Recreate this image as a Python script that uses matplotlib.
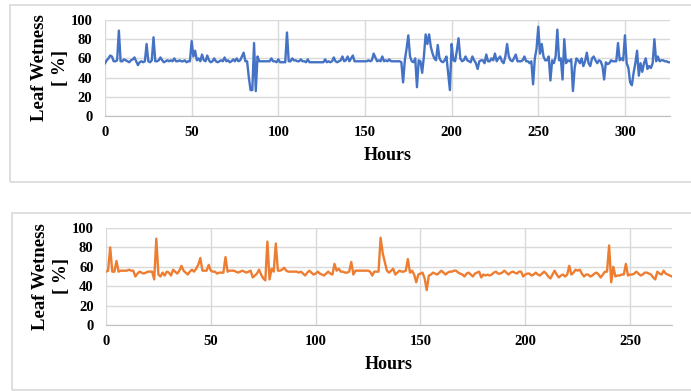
import matplotlib
matplotlib.use("Agg")
import matplotlib.pyplot as plt
from matplotlib.patches import Rectangle

# Leaf wetness readings, one per hour
wetness_a = [
    55, 58, 60, 63, 62, 57, 57, 58, 89, 57,
    57, 59, 58, 57, 56, 58, 59, 61, 57, 53,
    56, 57, 56, 57, 75, 57, 56, 58, 82, 57,
    57, 58, 61, 58, 56, 57, 58, 57, 58, 57,
    60, 57, 57, 58, 57, 57, 58, 56, 57, 57,
    78, 62, 68, 58, 60, 57, 64, 58, 57, 63,
    58, 56, 57, 60, 57, 56, 57, 58, 57, 61,
    57, 58, 56, 57, 59, 57, 60, 57, 58, 62,
    66, 57, 57, 40, 27, 27, 76, 26, 62, 57,
    57, 57, 57, 57, 57, 57, 60, 57, 57, 56,
    59, 56, 56, 56, 56, 87, 57, 57, 60, 58,
    58, 57, 57, 59, 57, 57, 56, 59, 56, 56,
    56, 56, 56, 56, 56, 56, 56, 59, 56, 57,
    56, 57, 61, 57, 56, 57, 58, 62, 57, 58,
    62, 57, 60, 63, 57, 57, 57, 57, 57, 57,
    57, 57, 58, 57, 58, 65, 61, 57, 58, 57,
    62, 57, 58, 57, 59, 57, 57, 57, 57, 57,
    57, 56, 35, 58, 70, 84, 62, 57, 56, 60,
    30, 58, 57, 45, 62, 85, 75, 85, 72, 65,
    60, 58, 74, 60, 57, 56, 58, 62, 45, 27,
    75, 58, 57, 68, 81, 60, 57, 58, 62, 58,
    57, 56, 62, 58, 55, 49, 57, 58, 58, 55,
    64, 57, 57, 60, 58, 65, 57, 60, 62, 57,
    55, 62, 75, 62, 58, 57, 60, 64, 57, 57,
    57, 58, 62, 57, 57, 55, 57, 33, 60, 70,
    93, 65, 75, 62, 58, 58, 62, 37, 58, 55,
    62, 90, 58, 60, 38, 80, 55, 58, 57, 59,
    26, 50, 60, 58, 55, 60, 52, 57, 66, 55,
    52, 60, 62, 58, 55, 58, 57, 52, 38, 56,
    54, 55, 58, 57, 57, 57, 76, 58, 60, 58,
    84, 55, 50, 35, 32, 45, 55, 68, 42, 55,
    46, 55, 60, 49, 52, 50, 55, 80, 57, 62,
    57, 58, 58, 57, 57, 56, 56,
]

wetness_b = [
    55, 56, 80, 55, 55, 66, 55, 56, 56, 56,
    56, 57, 56, 56, 50, 53, 55, 54, 53, 54,
    55, 55, 55, 47, 89, 52, 50, 54, 51, 55,
    54, 51, 57, 55, 53, 56, 61, 56, 54, 52,
    55, 57, 55, 58, 62, 69, 56, 56, 56, 62,
    56, 55, 55, 53, 54, 54, 54, 70, 55, 56,
    56, 56, 55, 54, 55, 56, 55, 54, 55, 56,
    49, 51, 53, 57, 52, 48, 46, 86, 47, 58,
    55, 84, 56, 56, 57, 59, 56, 55, 55, 55,
    55, 55, 54, 55, 53, 51, 54, 56, 54, 52,
    53, 55, 53, 52, 51, 53, 55, 53, 52, 63,
    56, 58, 55, 55, 54, 54, 55, 65, 52, 56,
    56, 56, 56, 56, 56, 56, 55, 51, 55, 55,
    55, 90, 74, 65, 56, 54, 56, 58, 52, 54,
    56, 55, 55, 56, 68, 54, 56, 52, 44, 52,
    53, 54, 48, 36, 51, 52, 54, 53, 52, 54,
    56, 54, 52, 54, 55, 55, 56, 56, 54, 53,
    52, 50, 53, 54, 52, 50, 53, 54, 55, 49,
    52, 51, 52, 51, 52, 54, 55, 53, 53, 54,
    56, 54, 52, 54, 55, 54, 53, 55, 55, 50,
    52, 53, 53, 51, 52, 54, 52, 51, 53, 55,
    53, 50, 48, 52, 56, 52, 49, 51, 52, 50,
    52, 61, 52, 54, 57, 56, 57, 53, 50, 52,
    52, 50, 51, 53, 54, 52, 49, 52, 55, 55,
    82, 44, 60, 50, 51, 51, 52, 52, 63, 51,
    52, 52, 53, 55, 53, 51, 52, 54, 54, 53,
    52, 49, 47, 55, 53, 52, 56, 53, 52, 51,
    50,
]

y_ticks = [0, 20, 40, 60, 80, 100]
x_ticks_a = [0, 50, 100, 150, 200, 250, 300]
x_ticks_b = [0, 50, 100, 150, 200, 250]

plt.rcParams["font.family"] = ["Liberation Serif", "DejaVu Serif"]
plt.rcParams["font.weight"] = "bold"

W, H = 691, 391
fig = plt.figure(figsize=(W / 100, H / 100), dpi=100)


def px_rect(left, top, right, bottom):
    return [left / W, 1 - bottom / H, (right - left) / W, (bottom - top) / H]


# light gray frames around each chart
for top, bottom, left in [(5, 182, 10), (213, 390, 12)]:
    fig.patches.append(Rectangle((left / W, 1 - bottom / H), 1.2, (bottom - top) / H,
                                 transform=fig.transFigure, fill=False,
                                 edgecolor="#d9d9d9", linewidth=1.2))

panels = [
    (wetness_a, "#4472C4", x_ticks_a, px_rect(105, 20, 670, 116)),
    (wetness_b, "#ED7D31", x_ticks_b, px_rect(106, 228, 672, 325)),
]

for values, color, xticks, rect in panels:
    ax = fig.add_axes(rect)
    hours = list(range(len(values)))
    ax.plot(hours, values, color=color, linewidth=1.7)
    ax.set_xlim(0, len(values) - 1)
    ax.set_ylim(0, 100)
    ax.set_xticks(xticks)
    ax.set_yticks(y_ticks)
    ax.tick_params(axis="x", length=0, labelsize=10.5, pad=7)
    ax.tick_params(axis="y", length=0, labelsize=10.5, pad=9)
    for lab in ax.get_xticklabels() + ax.get_yticklabels():
        lab.set_fontweight("bold")
    ax.grid(True, color="#d9d9d9", linewidth=1)
    ax.set_axisbelow(True)
    for side in ["top", "right", "left"]:
        ax.spines[side].set_visible(False)
    ax.spines["bottom"].set_color("#bfbfbf")
    ax.set_xlabel("Hours", fontsize=13, fontweight="bold", labelpad=6)
    ax.set_ylabel("Leaf Wetness\n[ %]", fontsize=13.5, fontweight="bold",
                  linespacing=1.3, labelpad=1)

fig.savefig("out.png", dpi=100)
